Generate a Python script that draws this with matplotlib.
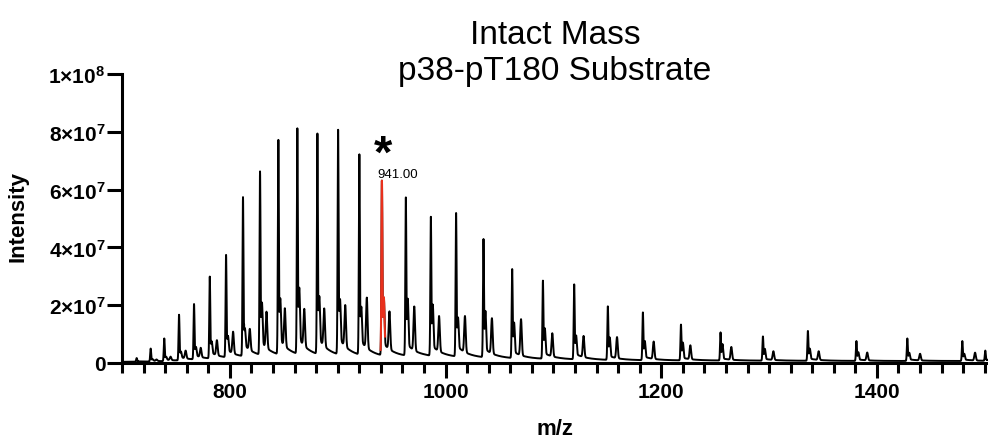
import numpy as np
import matplotlib
matplotlib.use("Agg")
import matplotlib.pyplot as plt

plt.rcParams['font.family'] = ['Liberation Sans', 'DejaVu Sans']
plt.rcParams['mathtext.fontset'] = 'custom'
plt.rcParams['mathtext.rm'] = 'Liberation Sans'
plt.rcParams['mathtext.bf'] = 'Liberation Sans:bold'

# main charge-state peaks (m/z, apex intensity in units of 1e6)
peak_mz = [713.6, 726.6, 739.2, 752.9, 766.8, 781.4, 796.5, 812.2, 828.0, 845.0,
           862.6, 881.2, 900.4, 920.1, 941.0, 963.2, 986.4, 1009.8, 1035.2, 1061.8,
           1090.3, 1119.3, 1150.5, 1183.0, 1218.3, 1255.0, 1294.3, 1336.0, 1381.0,
           1428.2, 1479.2, 1500.5]
peak_int = [1.7, 5.0, 8.5, 16.7, 20.4, 29.9, 37.4, 57.4, 66.3, 77.2,
            81.2, 79.4, 80.7, 72.2, 63.1, 57.3, 50.6, 51.9, 42.9, 32.5,
            28.5, 27.2, 19.6, 17.5, 13.3, 10.6, 9.2, 11.1, 7.6,
            8.5, 7.6, 4.3]
# shoulder right after each main peak
shoulder_int = [0, 0.5, 1.0, 2.0, 3.0, 4.0, 5.0, 6.0, 13.9, 14.5,
                17.8, 15.0, 14.0, 12.0, 16.0, 16.0, 14.5, 10.2, 13.3, 10.2,
                8.7, 6.5, 6.5, 5.5, 5.3, 5.0, 3.5, 3.5, 2.5,
                2.3, 2.0, 0]
# secondary (adduct) peak after each main peak
adduct_mz = [719, 732, 745, 759, 773, 788, 803, 818.5, 834, 851,
             869, 887.5, 907, 927, 948, 971, 994, 1018, 1043, 1070,
             1099, 1128, 1159, 1193, 1227, 1265, 1304, 1346, 1391,
             1440, 1491, 1503]
adduct_int = [0, 0.5, 1.2, 2.7, 3.2, 5.2, 7.5, 7.3, 12.5, 13.1,
              12.8, 13.0, 14.3, 17.4, 13.1, 15.2, 12.2, 12.5, 12.2, 12.5,
              8.0, 7.3, 7.3, 6.0, 4.8, 4.4, 3.0, 3.0, 2.7,
              2.3, 2.7, 0]
# baseline level between envelopes (1e6)
base_mz = [700, 740, 760, 790, 820, 860, 900, 940, 980, 1020, 1060, 1100, 1150, 1200, 1300, 1400, 1503]
base_int = [0.4, 0.5, 0.8, 1.3, 1.8, 2.0, 2.0, 1.9, 2.1, 1.8, 1.5, 1.3, 1.0, 0.9, 0.8, 0.7, 0.7]

mz = np.arange(700, 1503, 0.1)


def gauss(x0, w):
    return np.exp(-0.5 * ((mz - x0) / w) ** 2)


# everything except the main spikes
rest = np.interp(mz, base_mz, base_int)
for m, h, s, am, ah in zip(peak_mz, peak_int, shoulder_int, adduct_mz, adduct_int):
    rest += s * gauss(m + 1.8, 0.6)
    rest += ah * gauss(am, 0.7)
    d = mz - m
    rest += np.where(d > 1.0, 0.07 * h * np.exp(-(d - 1.0) / 10.0), 0)

# spikes sized so the apex lands on the read value
inten = rest.copy()
for m, h in zip(peak_mz, peak_int):
    under = np.interp(m, mz, rest)
    inten += max(h - under, 0) * gauss(m, 0.45)
inten *= 1e6

fig = plt.figure(figsize=(9.88, 4.39), dpi=100)
ax = fig.add_axes([122 / 988, 75 / 439, 866 / 988, 289 / 439])

ax.plot(mz, inten, color='black', lw=1.4)
red = (mz >= 939.8) & (mz <= 944.0)
ax.plot(mz[red], inten[red], color='#e8301c', lw=1.5)

ax.set_xlim(700, 1503)
ax.set_ylim(0, 1e8)

ax.set_xticks([800, 1000, 1200, 1400])
ax.set_xticklabels(['800', '1000', '1200', '1400'])
ax.set_xticks(np.arange(700, 1501, 20), minor=True)
ax.set_yticks([0, 2e7, 4e7, 6e7, 8e7, 1e8])
ax.set_yticklabels(['0', r'$\mathbf{2×10^{7}}$', r'$\mathbf{4×10^{7}}$',
                    r'$\mathbf{6×10^{7}}$', r'$\mathbf{8×10^{7}}$', r'$\mathbf{1×10^{8}}$'])

for lbl in ax.get_xticklabels() + ax.get_yticklabels():
    lbl.set_fontweight('bold')
ax.tick_params(axis='both', which='major', length=11, width=2.2, labelsize=15, pad=3)
ax.tick_params(axis='x', which='minor', length=7, width=2.2)
ax.tick_params(axis='y', which='major', pad=1)

for side in ['top', 'right']:
    ax.spines[side].set_visible(False)
for side in ['left', 'bottom']:
    ax.spines[side].set_linewidth(2.2)

fig.text(555 / 988, 1 - 44 / 439, 'Intact Mass', ha='center', va='baseline', fontsize=24)
fig.text(555 / 988, 1 - 80 / 439, 'p38-pT180 Substrate', ha='center', va='baseline', fontsize=24)
fig.text(18 / 988, 1 - 217 / 439, 'Intensity', rotation=90, ha='center', va='center',
         fontsize=16, fontweight='bold')
fig.text(555 / 988, 1 - 430 / 439, 'm/z', ha='center', va='center', fontsize=16, fontweight='bold')

fig.text(383 / 988, 1 - 168 / 439, '*', ha='center', va='baseline', fontsize=34, fontweight='bold')
fig.text(377 / 988, 1 - 178 / 439, '941.00', ha='left', va='baseline', fontsize=9.5)

fig.savefig('out.png', dpi=100)
